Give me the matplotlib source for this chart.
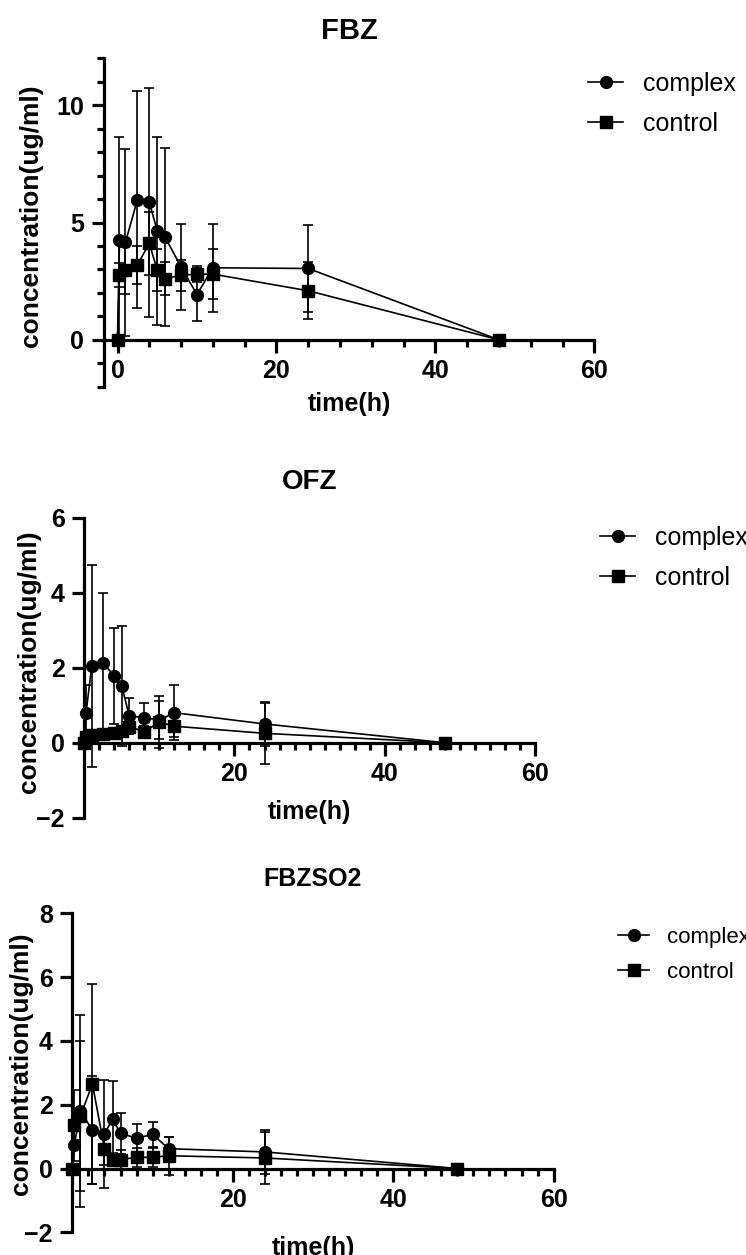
import numpy as np
import matplotlib.pyplot as plt
from matplotlib.ticker import MultipleLocator, FixedLocator

plt.rcParams['font.family'] = ['Liberation Sans', 'DejaVu Sans']

# sampling times (h)
time_h = [0, 0.25, 1, 2.5, 4, 5, 6, 8, 10, 12, 24, 48]

# FBZ
fbz_complex = [0, 4.26, 4.15, 5.97, 5.86, 4.64, 4.37, 3.10, 1.93, 3.07, 3.04, 0]
fbz_complex_sd = [0, 4.40, 4.00, 4.62, 4.87, 4.00, 3.79, 1.85, 1.13, 1.87, 1.86, 0]
fbz_control = [0, 2.76, 2.97, 3.19, 4.11, 2.97, 2.61, 2.75, 2.80, 2.80, 2.09, 0]
fbz_control_sd = [0, 0.50, 1.00, 0.80, 1.35, 0.90, 0.70, 0.65, 0.35, 1.05, 1.22, 0]

# OFZ
ofz_complex = [0, 0.80, 2.04, 2.13, 1.78, 1.51, 0.71, 0.67, 0.60, 0.80, 0.50, 0]
ofz_complex_sd = [0, 0.75, 2.70, 1.85, 1.29, 1.60, 0.47, 0.38, 0.50, 0.73, 0.59, 0]
ofz_control = [0, 0.15, 0.20, 0.22, 0.25, 0.30, 0.43, 0.29, 0.55, 0.44, 0.25, 0]
ofz_control_sd = [0, 0.10, 0.10, 0.12, 0.12, 0.15, 0.20, 0.15, 0.70, 0.30, 0.82, 0]

# FBZSO2
so2_complex = [0, 0.75, 1.80, 1.20, 1.08, 1.55, 1.10, 0.95, 1.07, 0.62, 0.52, 0]
so2_complex_sd = [0, 0.15, 3.00, 1.70, 1.68, 1.20, 0.65, 0.45, 0.40, 0.38, 0.68, 0]
so2_control = [0, 1.35, 1.65, 2.65, 0.62, 0.28, 0.28, 0.35, 0.35, 0.40, 0.33, 0]
so2_control_sd = [0, 1.10, 2.35, 3.13, 0.50, 0.20, 0.30, 0.30, 0.30, 0.60, 0.82, 0]

groups = ['complex', 'control']

W, H = 746, 1255
fig = plt.figure(figsize=(W / 100, H / 100), dpi=100)


def px_axes(left, top, right, bottom):
    # axes box given in pixel coords (origin top-left)
    return fig.add_axes([left / W, 1 - bottom / H, (right - left) / W, (bottom - top) / H])


def panel(ax, title, complex_y, complex_sd, control_y, control_sd, xlim, ylim,
          xmajor, xminor, ymajor, yminor, title_size, title_pad, leg_pos, leg_size):
    for y, sd in [(complex_y, complex_sd), (control_y, control_sd)]:
        ax.errorbar(time_h, y, yerr=sd, fmt='none', ecolor='black', elinewidth=1.2,
                    capsize=3.3, capthick=1.2, zorder=2)
    ax.plot(time_h, complex_y, '-o', color='black', lw=1.2, ms=8.5, label=groups[0],
            zorder=3, clip_on=False)
    ax.plot(time_h, control_y, '-s', color='black', lw=1.2, ms=8, label=groups[1],
            zorder=3, clip_on=False)

    ax.set_xlim(*xlim)
    ax.set_ylim(*ylim)
    ax.spines['top'].set_visible(False)
    ax.spines['right'].set_visible(False)
    ax.spines['bottom'].set_position(('data', 0))
    ax.spines['left'].set_linewidth(2.3)
    ax.spines['bottom'].set_linewidth(2.3)

    ax.xaxis.set_major_locator(FixedLocator(xmajor))
    ax.xaxis.set_minor_locator(MultipleLocator(xminor))
    ax.yaxis.set_major_locator(FixedLocator(ymajor))
    if yminor:
        ax.yaxis.set_minor_locator(MultipleLocator(yminor))
    ax.tick_params(which='major', direction='out', length=9, width=2.3, labelsize=18, pad=5)
    ax.tick_params(which='minor', direction='out', length=5, width=2.3)
    for lab in ax.get_xticklabels() + ax.get_yticklabels():
        lab.set_fontweight('bold')

    ax.set_title(title, fontsize=title_size, fontweight='bold', pad=title_pad)
    ax.set_xlabel('time(h)', fontsize=18, fontweight='bold')
    ax.set_ylabel('concentration(ug/ml)', fontsize=19, fontweight='bold')

    ax.legend(loc='center left', bbox_to_anchor=leg_pos, bbox_transform=fig.transFigure,
              frameon=False, fontsize=leg_size, handlelength=1.4, handletextpad=0.8,
              labelspacing=0.65, borderaxespad=0, borderpad=0)


ax1 = px_axes(103.6, 58.3, 594.3, 386.7)
panel(ax1, 'FBZ', fbz_complex, fbz_complex_sd, fbz_control, fbz_control_sd,
      (-1.75, 60), (-2, 12), [0, 20, 40, 60], 4, [0, 5, 10], 1,
      21, 14, (588 / W, 1 - 104 / H), 18)
ax1.xaxis.set_label_coords(0.5, -0.015)
ax1.yaxis.set_label_coords(-0.1235, 0.52)

ax2 = px_axes(84.2, 517.7, 535, 817.7)
panel(ax2, 'OFZ', ofz_complex, ofz_complex_sd, ofz_control, ofz_control_sd,
      (0, 60), (-2, 6), [20, 40, 60], 2, [-2, 0, 2, 4, 6], None,
      20, 21, (600 / W, 1 - 558 / H), 18)
ax2.xaxis.set_label_coords(0.5, 0.059)
ax2.yaxis.set_label_coords(-0.096, 0.52)

ax3 = px_axes(72.4, 913.3, 553.6, 1232.3)
panel(ax3, 'FBZSO2', so2_complex, so2_complex_sd, so2_control, so2_control_sd,
      (0, 60), (-2, 8), [20, 40, 60], 2, [-2, 0, 2, 4, 6, 8], None,
      18, 20, (618 / W, 1 - 955 / H), 16)
ax3.xaxis.set_label_coords(0.5, -0.012)
ax3.yaxis.set_label_coords(-0.082, 0.53)

fig.savefig('out.png', dpi=100)
